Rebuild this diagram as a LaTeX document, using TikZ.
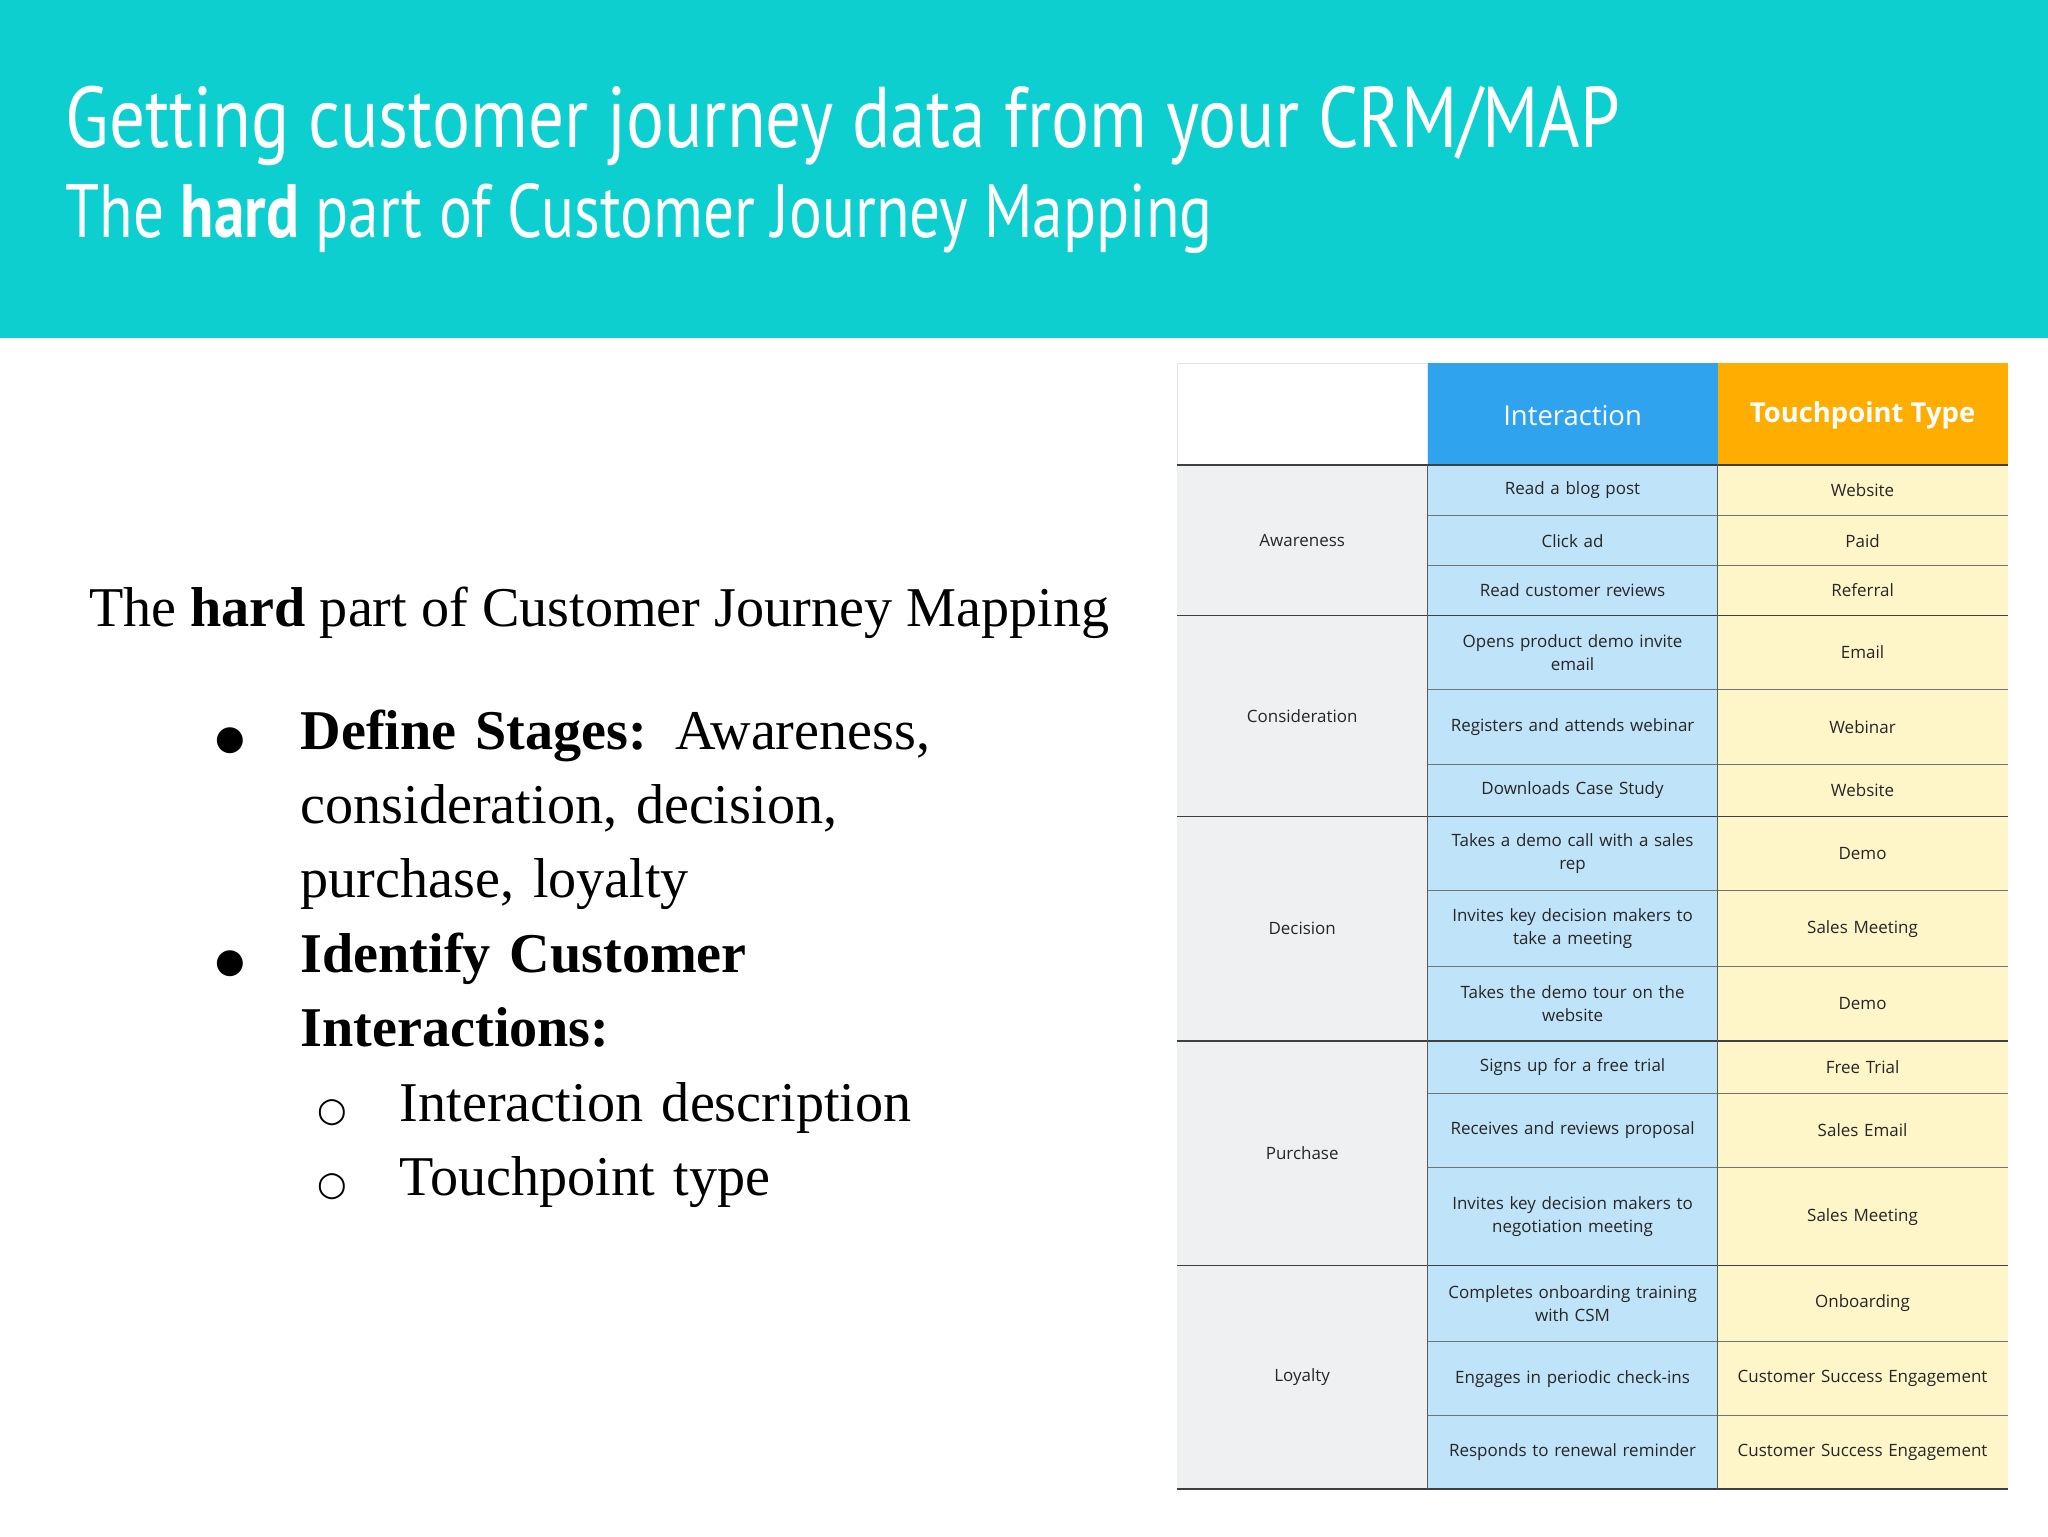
\documentclass[tikz,border=0pt]{standalone}
\usepackage{fontspec}
\setmainfont{Liberation Serif}
\newfontfamily\tabfont{Open Sans}
\newfontfamily\titfont{PT Sans}
\newfontfamily\symfont{DejaVu Sans}
\definecolor{teal}{HTML}{0ECFCF}
\definecolor{hblue}{HTML}{2FA3EE}
\definecolor{horange}{HTML}{FFAD00}
\definecolor{lblue}{HTML}{BFE3F8}
\definecolor{lyel}{HTML}{FEF6C8}
\definecolor{lgray}{HTML}{EFF0F2}
\newcommand{\cellbox}[7]{\path[fill=#6] (#2,#3) rectangle (#4,#5);
\node[celltext] (#1) at ({(#2+#4)/2},{(#3+#5)/2}) {#7};}
\newcommand{\bul}{\makebox[65pt][l]{{\symfont\fontsize{26}{30}\selectfont ●}}}
\newcommand{\cir}{\makebox[63pt][l]{{\symfont\fontsize{26}{30}\selectfont ○}}}
\tikzset{celltext/.style={font=\tabfont\fontsize{13}{18}\selectfont,align=center,text width=200pt,text=black!85}}
\begin{document}
\begin{tikzpicture}[x=1pt,y=-1pt]
\useasboundingbox (0,0) rectangle (1568,1176);
\fill[white] (0,0) rectangle (1568,1176);
\fill[teal] (0,0) rectangle (1568,259);
\node[anchor=base west,text=white,inner sep=0,font=\titfont\fontsize{66}{70}\selectfont] (t1) at (50,113) {\scalebox{0.825}[1]{Getting customer journey data from your CRM/MAP}};
\node[anchor=base west,text=white,inner sep=0,font=\titfont\fontsize{58}{62}\selectfont] (t2) at (50,182) {\scalebox{0.81}[1]{The \textbf{hard} part of Customer Journey Mapping}};
% left text
\node[anchor=base west,inner sep=0,font=\fontsize{43}{48}\selectfont] (lt) at (68,480) {The \textbf{hard} part of Customer Journey Mapping};
\node[anchor=north west,inner sep=0,font=\fontsize{43}{57}\selectfont,text width=620pt,align=left] (bl) at (165,543) {%
\bul\textbf{Define Stages:} Awareness,\\
\hspace*{65pt}consideration, decision,\\
\hspace*{65pt}purchase, loyalty\\
\bul\textbf{Identify Customer}\\
\hspace*{65pt}\textbf{Interactions:}\\
\hspace*{78pt}\cir Interaction description\\
\hspace*{78pt}\cir Touchpoint type};
% table header
\draw[black!10] (901,278) rectangle (1093,356);
\path[fill=hblue] (1093,278) rectangle (1315,356);
\node[font=\tabfont\fontsize{21}{24}\selectfont,text=white] (hi) at (1204,318) {Interaction};
\path[fill=horange] (1315,278) rectangle (1537,356);
\node[font=\tabfont\fontsize{21}{24}\selectfont\bfseries,text=white] (ht) at (1426,318) {Touchpoint Type};
% stages
\cellbox{s1}{901}{356}{1093}{471}{lgray}{Awareness}
\cellbox{s2}{901}{471}{1093}{625}{lgray}{Consideration}
\cellbox{s3}{901}{625}{1093}{797}{lgray}{Decision}
\cellbox{s4}{901}{797}{1093}{969}{lgray}{Purchase}
\cellbox{s5}{901}{969}{1093}{1140}{lgray}{Loyalty}
% rows
\cellbox{a1}{1093}{356}{1315}{395}{lblue}{Read a blog post}
\cellbox{b1}{1315}{356}{1537}{395}{lyel}{Website}
\cellbox{a2}{1093}{395}{1315}{433}{lblue}{Click ad}
\cellbox{b2}{1315}{395}{1537}{433}{lyel}{Paid}
\cellbox{a3}{1093}{433}{1315}{471}{lblue}{Read customer reviews}
\cellbox{b3}{1315}{433}{1537}{471}{lyel}{Referral}
\cellbox{a4}{1093}{471}{1315}{528}{lblue}{Opens product demo invite\\email}
\cellbox{b4}{1315}{471}{1537}{528}{lyel}{Email}
\cellbox{a5}{1093}{528}{1315}{585}{lblue}{Registers and attends webinar}
\cellbox{b5}{1315}{528}{1537}{585}{lyel}{Webinar}
\cellbox{a6}{1093}{585}{1315}{625}{lblue}{Downloads Case Study}
\cellbox{b6}{1315}{585}{1537}{625}{lyel}{Website}
\cellbox{a7}{1093}{625}{1315}{682}{lblue}{Takes a demo call with a sales\\rep}
\cellbox{b7}{1315}{625}{1537}{682}{lyel}{Demo}
\cellbox{a8}{1093}{682}{1315}{740}{lblue}{Invites key decision makers to\\take a meeting}
\cellbox{b8}{1315}{682}{1537}{740}{lyel}{Sales Meeting}
\cellbox{a9}{1093}{740}{1315}{797}{lblue}{Takes the demo tour on the\\website}
\cellbox{b9}{1315}{740}{1537}{797}{lyel}{Demo}
\cellbox{a10}{1093}{797}{1315}{837}{lblue}{Signs up for a free trial}
\cellbox{b10}{1315}{797}{1537}{837}{lyel}{Free Trial}
\cellbox{a11}{1093}{837}{1315}{894}{lblue}{Receives and reviews proposal}
\cellbox{b11}{1315}{837}{1537}{894}{lyel}{Sales Email}
\cellbox{a12}{1093}{894}{1315}{969}{lblue}{Invites key decision makers to\\negotiation meeting}
\cellbox{b12}{1315}{894}{1537}{969}{lyel}{Sales Meeting}
\cellbox{a13}{1093}{969}{1315}{1027}{lblue}{Completes onboarding training\\with CSM}
\cellbox{b13}{1315}{969}{1537}{1027}{lyel}{Onboarding}
\cellbox{a14}{1093}{1027}{1315}{1084}{lblue}{Engages in periodic check-ins}
\cellbox{b14}{1315}{1027}{1537}{1084}{lyel}{Customer Success Engagement}
\cellbox{a15}{1093}{1084}{1315}{1140}{lblue}{Responds to renewal reminder}
\cellbox{b15}{1315}{1084}{1537}{1140}{lyel}{Customer Success Engagement}
% grid lines
\foreach \y in {395,433,528,585,682,740,837,894,1027,1084}
  \draw[black!55,line width=0.8pt] (1093,\y) -- (1537,\y);
\foreach \y in {356,471,625,797,969,1140}
  \draw[black!75,line width=1pt] (901,\y) -- (1537,\y);
\draw[black!65,line width=0.8pt] (1093,356) -- (1093,1140);
\draw[black!65,line width=0.8pt] (1315,356) -- (1315,1140);
\end{tikzpicture}
\end{document}
